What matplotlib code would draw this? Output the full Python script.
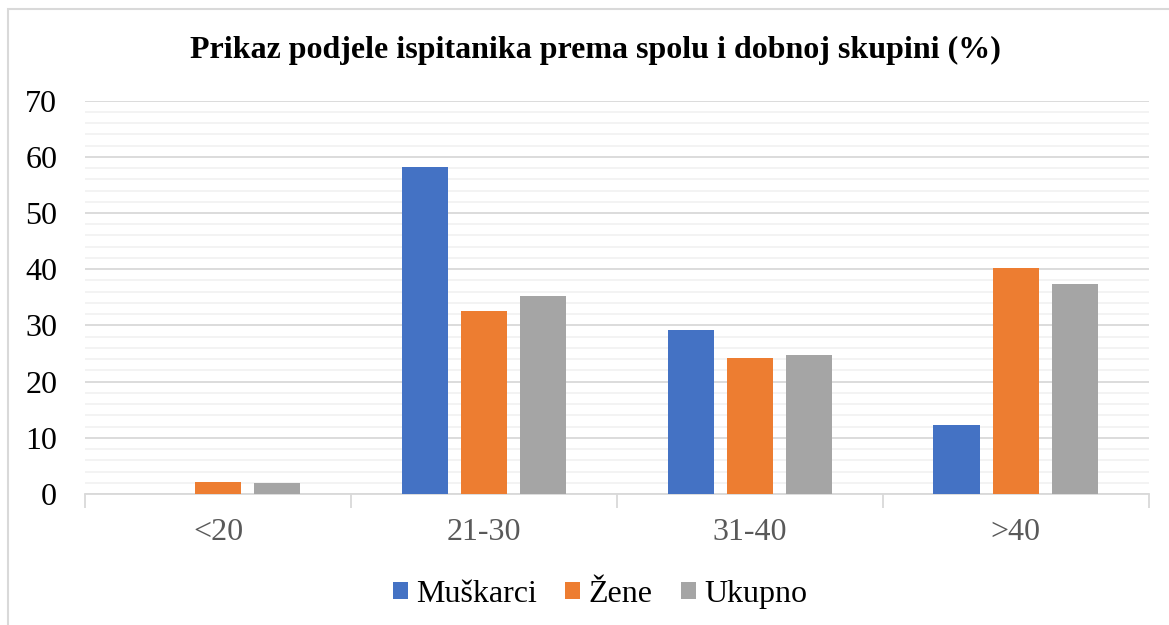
import numpy as np
import matplotlib.pyplot as plt
from matplotlib.patches import Rectangle

categories = ['<20', '21-30', '31-40', '>40']
muskarci = [0, 58.2, 29.1, 12.3]
zene = [2.2, 32.5, 24.2, 40.3]
ukupno = [2.0, 35.3, 24.8, 37.4]
series_names = ['Muškarci', 'Žene', 'Ukupno']
colors = ['#4472C4', '#ED7D31', '#A5A5A5']

plt.rcParams['font.family'] = ['Liberation Serif', 'DejaVu Serif']

fig = plt.figure(figsize=(11.69, 6.25), dpi=100)
ax = fig.add_axes([0.0727, 0.2096, 0.910, 0.6294])

x = np.arange(len(categories))
w = 0.175
step = 0.222
for i, (vals, name, c) in enumerate(zip([muskarci, zene, ukupno], series_names, colors)):
    ax.bar(x + (i - 1) * step, vals, w, color=c, label=name, zorder=3)

ax.set_xlim(-0.5, len(categories) - 0.5)
ax.set_ylim(0, 70)
ax.set_yticks(np.arange(0, 71, 10))
ax.set_yticks(np.arange(0, 71, 2), minor=True)
ax.grid(axis='y', which='major', color='#d9d9d9', lw=1.3, zorder=0)
ax.grid(axis='y', which='minor', color='#f2f2f2', lw=1.3, zorder=0)
ax.tick_params(axis='y', which='both', length=0, labelsize=23, pad=20)

ax.set_xticks(x)
ax.set_xticklabels(categories)
ax.set_xticks(np.arange(-0.5, len(categories)), minor=True)
ax.tick_params(axis='x', which='major', length=0, labelsize=23, pad=17, labelcolor='#595959')
ax.tick_params(axis='x', which='minor', length=10, color='#d9d9d9', width=1.3)

for s in ['top', 'right', 'left']:
    ax.spines[s].set_visible(False)
ax.spines['bottom'].set_color('#d9d9d9')
ax.spines['bottom'].set_linewidth(1.3)

fig.text(0.509, 0.919, 'Prikaz podjele ispitanika prema spolu i dobnoj skupini (%)',
         fontsize=23, fontweight='bold', ha='center', va='center')

ax.legend(loc='center', bbox_to_anchor=(0.484, -0.255), ncol=3, frameon=False,
          fontsize=23, handlelength=0.47, handleheight=0.47, handletextpad=0.25,
          columnspacing=0.9)

fig.patches.append(Rectangle((8 / 1169, -0.1), 1.2, 1 - 9 / 625 + 0.1, transform=fig.transFigure,
                             fill=False, edgecolor='#d9d9d9', lw=1.5))

fig.savefig('out.png', dpi=100)
